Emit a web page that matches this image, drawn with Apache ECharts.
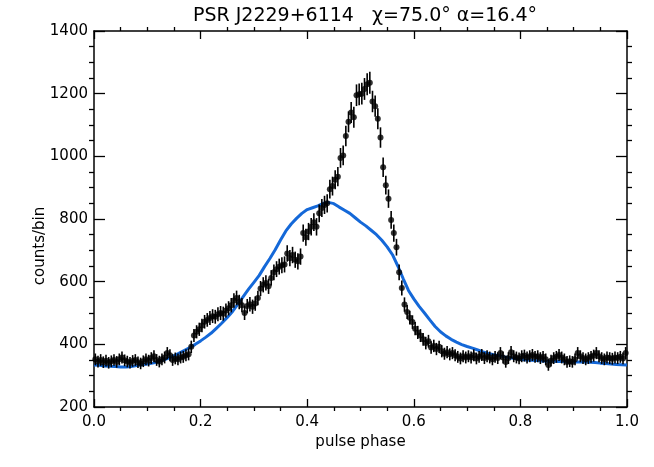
<!DOCTYPE html>
<html>
<head>
<meta charset="utf-8">
<script src="https://cdn.jsdelivr.net/npm/echarts@6/dist/echarts.min.js"></script>
<style>
  html, body { margin: 0; padding: 0; background: #fff; }
  #chart { width: 654px; height: 467px; }
</style>
</head>
<body>
<div id="chart"></div>
<script>
// observed light curve, 200 phase bins (counts per bin)
const counts = [
  352, 345, 350, 343, 348, 341, 346, 350, 344, 352,
  358, 349, 345, 341, 347, 350, 343, 339, 346, 352,
  348, 356, 362, 350, 345, 352, 358, 372, 365, 350,
  355, 352, 358, 360, 365, 368, 392, 428, 440, 448,
  460, 472, 478, 484, 490, 488, 496, 500, 498, 508,
  515, 525, 540, 548, 535, 525, 500, 522, 528, 520,
  530, 548, 578, 590, 596, 585, 612, 630, 640, 648,
  652, 655, 690, 675, 685, 670, 665, 680, 755, 742,
  760, 775, 790, 775, 818, 835, 845, 850, 895, 905,
  925, 935, 995, 1003, 1065, 1110, 1140, 1125, 1195, 1198,
  1200, 1215, 1230, 1235, 1175, 1160, 1120, 1060, 965, 908,
  865, 797, 755, 710, 630, 580, 527, 503, 485, 471,
  450, 438, 428, 416, 404, 410, 390, 395, 385, 392,
  378, 370, 375, 368, 372, 365, 360, 355, 362, 358,
  362, 358, 365, 355, 360, 366, 356, 362, 358, 352,
  360, 356, 372, 358, 344, 356, 375, 362, 358, 355,
  362, 364, 358, 362, 366, 360, 362, 356, 360, 352,
  334, 348, 356, 360, 366, 358, 352, 344, 346, 344,
  352, 372, 362, 356, 352, 356, 360, 364, 372, 362,
  356, 352, 358, 356, 354, 358, 356, 360, 355, 372
]

// model light curve, sampled every 0.01 in phase
const modelCounts = [
  334, 333, 331, 330, 329, 328, 328, 329, 332, 335,
  337, 340, 344, 350, 356, 363, 372, 381, 390, 400,
  411, 423, 436, 452, 468, 486, 505, 528, 552, 576,
  598, 620, 648, 674, 702, 733, 762, 784, 802, 818,
  830, 836, 842, 850, 853, 849, 838, 828, 818, 804,
  790, 778, 764, 750, 732, 711, 686, 650, 610, 572,
  545, 521, 500, 478, 457, 440, 427, 416, 407, 399,
  393, 388, 382, 376, 371, 367, 364, 360, 357, 355,
  352, 350, 349, 348, 347, 346, 346, 345, 345, 344,
  344, 344, 344, 343, 342, 340, 339, 337, 336, 335,
  334
]

const nBins = counts.length
const binPhase = counts.map((c, i) => (i + 0.5) / nBins)
const modelPhase = modelCounts.map((c, i) => i / (modelCounts.length - 1))

const points = counts.map((c, i) => [binPhase[i], c])
const errBars = counts.map((c, i) => [binPhase[i], c - Math.sqrt(c), c + Math.sqrt(c)])
const modelLine = modelCounts.map((c, i) => [modelPhase[i], c])

const font = 'DejaVu Sans'
const tickLine = { color: '#000', width: 1.3 }

// ticks point into the plot on all four sides; minor ticks get a negative length to turn inward
function frameAxis (extra, majorLen, minorLen) {
  return Object.assign({
    type: 'value',
    axisLine: { show: true, onZero: false, lineStyle: { color: '#000', width: 1.5 } },
    axisTick: { show: true, inside: true, length: majorLen, lineStyle: tickLine },
    minorTick: { show: true, splitNumber: 4, length: -minorLen, lineStyle: tickLine },
    splitLine: { show: false }
  }, extra)
}

const dom = document.getElementById('chart')
const myChart = echarts.init(dom)
const option = {
  animation: false,
  backgroundColor: '#fff',
  title: {
    text: 'PSR J2229+6114   \u03c7=75.0\u00b0 \u03b1=16.4\u00b0',
    left: 360,
    textAlign: 'center',
    top: 2,
    textStyle: { fontFamily: font, fontSize: 19, fontWeight: 'normal', color: '#000' }
  },
  // y title sits a little below the plot's middle, as in the original
  graphic: [{
    type: 'text',
    x: 40,
    y: 246,
    rotation: Math.PI / 2,
    style: {
      text: 'counts/bin',
      fontFamily: font,
      fontSize: 15,
      fill: '#000',
      align: 'center',
      verticalAlign: 'middle'
    }
  }],
  grid: { left: 94, right: 27, top: 31, bottom: 60 },
  xAxis: [
    frameAxis({
      min: 0, max: 1, interval: 0.2,
      name: 'pulse phase', nameLocation: 'middle', nameGap: 24,
      nameTextStyle: { fontFamily: font, fontSize: 15, color: '#000' },
      axisLabel: { fontFamily: font, fontSize: 15, color: '#000', margin: 8, formatter: v => v.toFixed(1) }
    }, 8, 4),
    frameAxis({
      min: 0, max: 1, interval: 0.2, position: 'top',
      axisLabel: { show: false }
    }, 8, 4)
  ],
  yAxis: [
    frameAxis({
      min: 200, max: 1400, interval: 200,
      axisLabel: { fontFamily: font, fontSize: 15, color: '#000', margin: 6, formatter: v => String(v) }
    }, 11, 5),
    frameAxis({
      min: 200, max: 1400, interval: 200, position: 'right',
      axisLabel: { show: false }
    }, 11, 5)
  ],
  series: [
    {
      type: 'line',
      data: modelLine,
      showSymbol: false,
      lineStyle: { color: '#1468d8', width: 3 },
      z: 2
    },
    {
      type: 'custom',
      data: errBars,
      renderItem: (params, api) => {
        const lo = api.coord([api.value(0), api.value(1)])
        const hi = api.coord([api.value(0), api.value(2)])
        return {
          type: 'line',
          shape: { x1: lo[0], y1: lo[1], x2: hi[0], y2: hi[1] },
          style: { stroke: '#000', lineWidth: 1.6 }
        }
      },
      z: 3
    },
    {
      type: 'scatter',
      data: points,
      symbol: 'circle',
      symbolSize: 6,
      itemStyle: { color: '#000' },
      z: 4
    }
  ]
}
if (option && typeof option === 'object') {
  myChart.setOption(option, true)
}
</script>
</body>
</html>
